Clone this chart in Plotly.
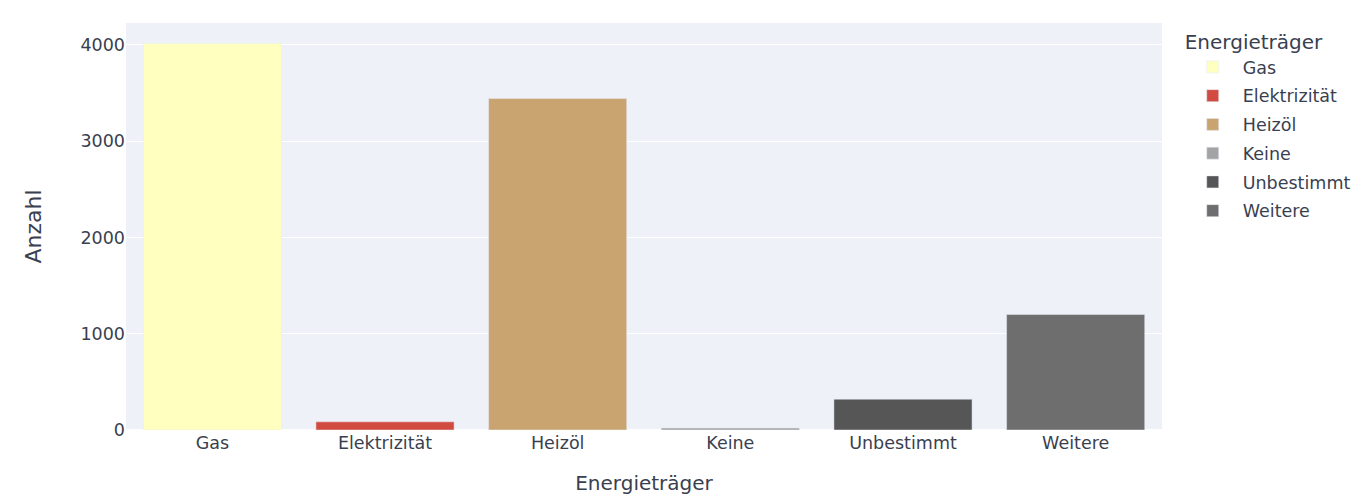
import plotly.graph_objects as go

categories = ["Gas", "Elektrizität", "Heizöl", "Keine", "Unbestimmt", "Weitere"]
values = [4016, 85, 3442, 20, 320, 1199]
colors = ["#FFFFC0", "#D24B40", "#C9A470", "#A3A3A3", "#565656", "#6E6E6E"]

fig = go.Figure()
for cat, val, col in zip(categories, values, colors):
    fig.add_trace(go.Bar(x=[cat], y=[val], name=cat, marker_color=col,
                         legendgroup=cat, offsetgroup=0, showlegend=True))

fig.update_layout(
    template="plotly",
    width=1359, height=500,
    font=dict(family="DejaVu Sans", size=17.5, color="#3a3f50"),
    plot_bgcolor="#EEF1F8",
    paper_bgcolor="white",
    margin=dict(l=118, r=205, t=15, b=78, autoexpand=False),
    legend=dict(title=dict(text="Energieträger", font=dict(size=20)),
                font=dict(size=17.5), tracegroupgap=3, itemwidth=50),
    xaxis=dict(title=dict(text="Energieträger", font=dict(size=20), standoff=24),
               categoryorder="array", categoryarray=categories, automargin=False),
    yaxis=dict(title=dict(text="Anzahl", font=dict(size=22), standoff=32), gridcolor="white",
               dtick=1000, automargin=False),
    bargap=0.2,
)
fig.write_html("out.html")
